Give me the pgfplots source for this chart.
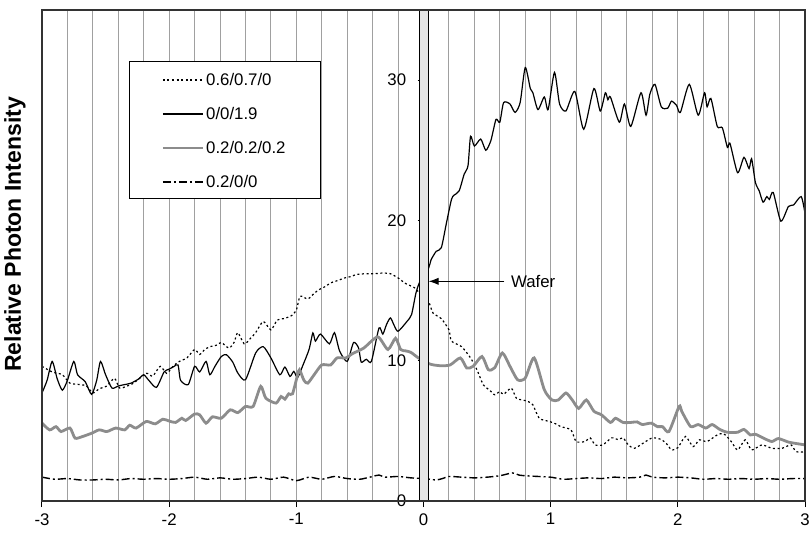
\documentclass[border=0pt]{standalone}
\usepackage{fontspec}
\setmainfont{Liberation Sans}
\usepackage{pgfplots}
\pgfplotsset{compat=1.18}
\usetikzlibrary{arrows.meta}

\definecolor{curvegray}{HTML}{8C8C8C}
\definecolor{gridgray}{HTML}{A0A0A0}

\begin{document}
\begin{tikzpicture}
\begin{axis}[
  width=381.5pt, height=245.5pt, scale only axis,
  xmin=-3, xmax=3, ymin=0, ymax=35,
  axis x line=bottom, axis y line=center,
  x axis line style={-, black, line width=0.6pt},
  y axis line style={draw=none},
  hide obscured x ticks=false, hide obscured y ticks=false,
  xtick={-3,-2,-1,0,1,2,3}, xticklabels={-3,-2,-1,0,1,2,3},
  ytick={0,10,20,30}, yticklabels={0,10,20,30},
  tick align=outside, major tick length=3pt,
  tick style={black, line width=0.5pt},
  minor x tick num=4, xminorgrids, xmajorgrids, minor tick length=0pt,
  grid style={gridgray, line width=0.5pt},
  font=\fontsize{8.4}{10}\selectfont,
  yticklabel style={anchor=east, inner sep=0pt, xshift=-5.5pt},
  xticklabel style={inner sep=0pt, yshift=-3pt},
  legend style={at={(0.114,0.895)}, anchor=north west, draw=none, fill=none,
    inner xsep=16pt, inner ysep=5pt, row sep=9pt,
    nodes={inner sep=1pt, text height=6pt, text depth=0pt},
    font=\fontsize{8.4}{10}\selectfont},
  legend cell align=left,
  legend image code/.code={\draw[#1] (0pt,0pt) -- (20pt,0pt);},
  clip=false,
]
% 0.6/0.7/0
\addplot[black, line width=0.6pt, dash pattern=on 1pt off 1.3pt, smooth, tension=0.4] coordinates {
(-3.00,9.6)(-2.92,9.2)(-2.84,9.0)(-2.78,8.4)(-2.70,8.3)(-2.65,8.2)(-2.60,7.7)(-2.55,8.0)
(-2.49,8.2)(-2.43,8.75)(-2.39,8.05)(-2.33,8.2)(-2.28,8.4)(-2.18,9.1)(-2.13,8.9)(-2.07,9.6)
(-2.02,9.1)(-1.97,9.6)(-1.92,9.95)(-1.86,10.2)(-1.80,10.8)(-1.76,10.45)(-1.72,10.8)(-1.68,11.0)
(-1.63,11.1)(-1.59,11.3)(-1.53,10.9)(-1.49,11.3)(-1.46,12.0)(-1.41,11.2)(-1.36,11.6)(-1.32,12.0)
(-1.26,12.8)(-1.20,12.2)(-1.15,12.9)(-1.10,13.0)(-1.04,13.2)(-1.00,13.6)(-0.97,14.6)(-0.91,14.4)
(-0.86,14.8)(-0.82,15.07)(-0.77,15.3)(-0.73,15.55)(-0.68,15.7)(-0.62,15.9)(-0.57,16.0)(-0.53,16.14)
(-0.46,16.2)(-0.39,16.2)(-0.32,16.25)(-0.26,16.2)(-0.20,15.9)(-0.14,15.5)(-0.07,15.2)(-0.03,14.8)
(0.04,14.2)(0.075,13.4)(0.14,13.0)(0.20,12.2)(0.22,11.4)(0.30,11.0)(0.37,10.2)(0.42,9.36)
(0.47,8.29)(0.52,7.9)(0.56,7.57)(0.60,7.8)(0.63,7.6)(0.69,8.05)(0.73,7.33)(0.78,7.2)
(0.82,7.1)(0.86,6.86)(0.91,5.9)(0.99,5.67)(1.04,5.5)(1.08,5.3)(1.16,5.07)(1.20,4.24)
(1.27,4.24)(1.31,4.5)(1.35,4.0)(1.41,4.0)(1.48,4.5)(1.53,4.38)(1.57,4.5)(1.61,4.0)
(1.66,3.76)(1.73,4.14)(1.80,4.5)(1.87,4.38)(1.92,4.0)(1.95,3.64)(2.00,3.8)(2.06,4.6)
(2.12,3.88)(2.17,4.36)(2.23,4.24)(2.31,4.71)(2.36,4.8)(2.42,4.24)(2.47,3.64)(2.53,4.36)
(2.58,3.64)(2.66,4.0)(2.74,3.76)(2.82,3.76)(2.89,4.0)(2.93,3.52)(3.00,3.5)};
\addlegendentry{0.6/0.7/0}
% 0/0/1.9
\addplot[black, line width=0.6pt, smooth, tension=0.4] coordinates {
(-3.00,7.7)(-2.96,8.6)(-2.92,9.95)(-2.88,8.7)(-2.84,7.9)(-2.80,8.6)(-2.75,9.95)(-2.72,9.0)
(-2.66,8.5)(-2.61,7.6)(-2.57,8.6)(-2.54,9.95)(-2.50,9.0)(-2.45,8.05)(-2.40,8.2)(-2.35,8.3)
(-2.30,8.4)(-2.24,8.7)(-2.20,9.0)(-2.16,8.6)(-2.10,8.1)(-2.04,9.2)(-2.00,9.4)(-1.96,9.6)
(-1.93,9.7)(-1.91,8.6)(-1.85,8.3)(-1.80,9.6)(-1.76,9.2)(-1.71,9.95)(-1.68,9.0)(-1.64,9.6)
(-1.59,10.3)(-1.55,10.43)(-1.50,9.9)(-1.46,9.12)(-1.40,8.64)(-1.32,10.55)(-1.26,11.0)(-1.20,10.2)
(-1.13,9.0)(-1.09,9.55)(-1.05,8.88)(-1.02,9.24)(-0.99,8.8)(-0.95,9.64)(-0.90,10.8)(-0.87,11.98)
(-0.85,11.4)(-0.81,11.9)(-0.74,11.2)(-0.70,12.0)(-0.66,10.7)(-0.60,9.95)(-0.55,11.3)(-0.51,10.9)
(-0.49,9.9)(-0.45,10.1)(-0.41,9.95)(-0.35,12.33)(-0.32,11.9)(-0.29,12.6)(-0.26,13.05)(-0.23,12.5)
(-0.20,12.1)(-0.13,12.8)(-0.094,13.29)(-0.06,14.8)(-0.03,15.6)(0.04,16.6)(0.06,17.2)(0.10,17.8)
(0.14,18.05)(0.18,19.8)(0.22,21.5)(0.24,21.8)(0.28,22.1)(0.32,23.3)(0.35,23.9)(0.37,26.0)
(0.40,25.3)(0.45,25.8)(0.49,25.0)(0.53,25.7)(0.57,27.2)(0.60,27.0)(0.63,28.4)(0.68,28.3)
(0.72,27.7)(0.76,28.4)(0.80,30.9)(0.84,29.4)(0.86,29.1)(0.90,27.9)(0.95,28.8)(0.98,27.9)
(1.03,30.55)(1.07,28.3)(1.12,27.8)(1.19,29.2)(1.26,26.5)(1.34,29.4)(1.39,27.8)(1.43,29.1)
(1.45,28.6)(1.47,28.8)(1.54,27.0)(1.58,28.3)(1.63,26.7)(1.71,29.1)(1.75,27.5)(1.78,29.0)
(1.82,29.7)(1.87,28.1)(1.92,28.0)(1.95,28.5)(1.99,28.2)(2.02,27.7)(2.09,29.7)(2.16,27.5)
(2.21,29.1)(2.23,28.1)(2.26,28.7)(2.31,26.7)(2.35,26.6)(2.39,25.2)(2.41,25.5)(2.47,23.4)
(2.52,24.5)(2.56,23.7)(2.58,24.4)(2.61,22.7)(2.64,22.1)(2.67,21.3)(2.70,21.7)(2.72,21.5)
(2.75,22.0)(2.81,19.95)(2.87,21.0)(2.91,21.1)(2.97,21.7)(3.00,20.5)};
\addlegendentry{0/0/1.9}
% 0.2/0.2/0.2
\addplot[curvegray, line width=1.4pt, smooth, tension=0.4] coordinates {
(-3.00,5.55)(-2.94,5.07)(-2.89,5.3)(-2.85,4.95)(-2.78,5.2)(-2.74,4.48)(-2.68,4.6)(-2.61,4.83)
(-2.55,5.07)(-2.49,4.95)(-2.42,5.2)(-2.35,5.07)(-2.31,5.4)(-2.26,5.2)(-2.18,5.67)(-2.11,5.5)
(-2.05,5.83)(-2.00,5.7)(-1.95,5.6)(-1.90,5.9)(-1.87,5.74)(-1.80,6.2)(-1.76,6.14)(-1.71,5.55)
(-1.66,6.0)(-1.59,5.9)(-1.52,6.5)(-1.46,6.3)(-1.40,6.74)(-1.34,6.74)(-1.28,8.17)(-1.24,7.33)
(-1.16,6.98)(-1.12,7.45)(-1.09,7.26)(-1.06,7.64)(-1.03,7.64)(-0.99,9.0)(-0.975,9.36)(-0.94,8.6)
(-0.91,8.4)(-0.86,9.0)(-0.80,9.7)(-0.73,9.7)(-0.68,10.2)(-0.61,10.2)(-0.56,10.5)(-0.47,10.9)
(-0.36,11.7)(-0.28,10.8)(-0.22,11.6)(-0.18,10.8)(-0.14,10.7)(-0.10,10.6)(-0.04,10.2)(0.04,9.8)
(0.08,9.7)(0.14,9.64)(0.21,9.7)(0.29,10.2)(0.34,9.48)(0.39,9.6)(0.46,10.3)(0.51,9.36)
(0.56,9.5)(0.62,10.55)(0.68,9.6)(0.74,8.64)(0.80,8.76)(0.87,10.2)(0.95,7.93)(1.01,7.2)
(1.06,7.2)(1.12,7.7)(1.17,7.2)(1.22,6.6)(1.28,7.2)(1.34,6.4)(1.40,6.14)(1.47,5.6)
(1.51,5.9)(1.57,5.6)(1.63,5.6)(1.68,5.64)(1.72,5.45)(1.79,5.55)(1.84,5.3)(1.88,5.3)
(1.93,4.95)(2.01,6.74)(2.03,6.4)(2.10,5.31)(2.16,5.45)(2.22,5.2)(2.27,5.45)(2.33,5.1)
(2.39,4.9)(2.47,4.9)(2.52,5.1)(2.57,4.71)(2.61,4.76)(2.68,4.45)(2.74,4.24)(2.79,4.45)
(2.87,4.2)(2.93,4.1)(3.00,4.0)};
\addlegendentry{0.2/0.2/0.2}
% 0.2/0/0
\addplot[black, line width=0.7pt, dash pattern=on 4pt off 1.5pt on 1pt off 1.5pt, smooth, tension=0.4] coordinates {
(-3.0,1.7)(-2.9,1.55)(-2.8,1.6)(-2.7,1.5)(-2.6,1.5)(-2.5,1.55)(-2.4,1.5)(-2.3,1.6)
(-2.2,1.55)(-2.1,1.6)(-2.0,1.55)(-1.9,1.6)(-1.8,1.7)(-1.7,1.55)(-1.6,1.65)(-1.5,1.55)
(-1.4,1.6)(-1.3,1.7)(-1.2,1.55)(-1.1,1.7)(-1.0,1.45)(-0.9,1.7)(-0.8,1.55)(-0.7,1.75)
(-0.6,1.6)(-0.5,1.55)(-0.4,1.75)(-0.35,1.85)(-0.3,1.7)(-0.2,1.75)(-0.1,1.65)(0.0,1.6)
(0.05,1.55)(0.1,1.5)(0.15,1.6)(0.2,1.75)(0.3,1.7)(0.4,1.65)(0.5,1.7)(0.6,1.8)
(0.7,2.0)(0.75,1.85)(0.8,1.8)(0.9,1.75)(1.0,1.7)(1.1,1.55)(1.2,1.6)(1.3,1.65)
(1.4,1.6)(1.5,1.7)(1.6,1.65)(1.7,1.7)(1.75,1.85)(1.8,1.7)(1.9,1.65)(2.0,1.7)
(2.1,1.65)(2.2,1.55)(2.3,1.6)(2.4,1.55)(2.5,1.6)(2.6,1.55)(2.7,1.6)(2.8,1.55)
(2.9,1.6)(3.0,1.6)};
\addlegendentry{0.2/0/0}
% wafer
\addplot[fill=black!10, draw=black, line width=0.5pt, forget plot] coordinates {
(-0.035,0)(-0.035,35)(0.037,35)(0.037,0)} -- cycle;
\draw[black!80, line width=0.6pt] (rel axis cs:0,0) rectangle (rel axis cs:1,1);
% legend frame
\draw[black, line width=0.5pt, fill=white] (rel axis cs:0.1144,0.6157) rectangle (rel axis cs:0.3653,0.8947);
\draw[-{Latex[length=5pt,width=3.6pt]}, line width=0.5pt] (axis cs:0.635,15.66) -- (axis cs:0.04,15.66);
\node[anchor=west, inner sep=0pt] at (axis cs:0.685,15.66) {Wafer};
\node[rotate=90, font=\bfseries\fontsize{11.5}{14}\selectfont] at (rel axis cs:-0.0354,0.543) {Relative Photon Intensity};
\coordinate (bl) at (rel axis cs:0,0);
\coordinate (tr) at (rel axis cs:1,1);
\end{axis}
\pgfresetboundingbox
\path ([xshift=-21pt,yshift=-16.5pt]bl) rectangle ([xshift=2pt,yshift=5pt]tr);
\end{tikzpicture}
\end{document}
